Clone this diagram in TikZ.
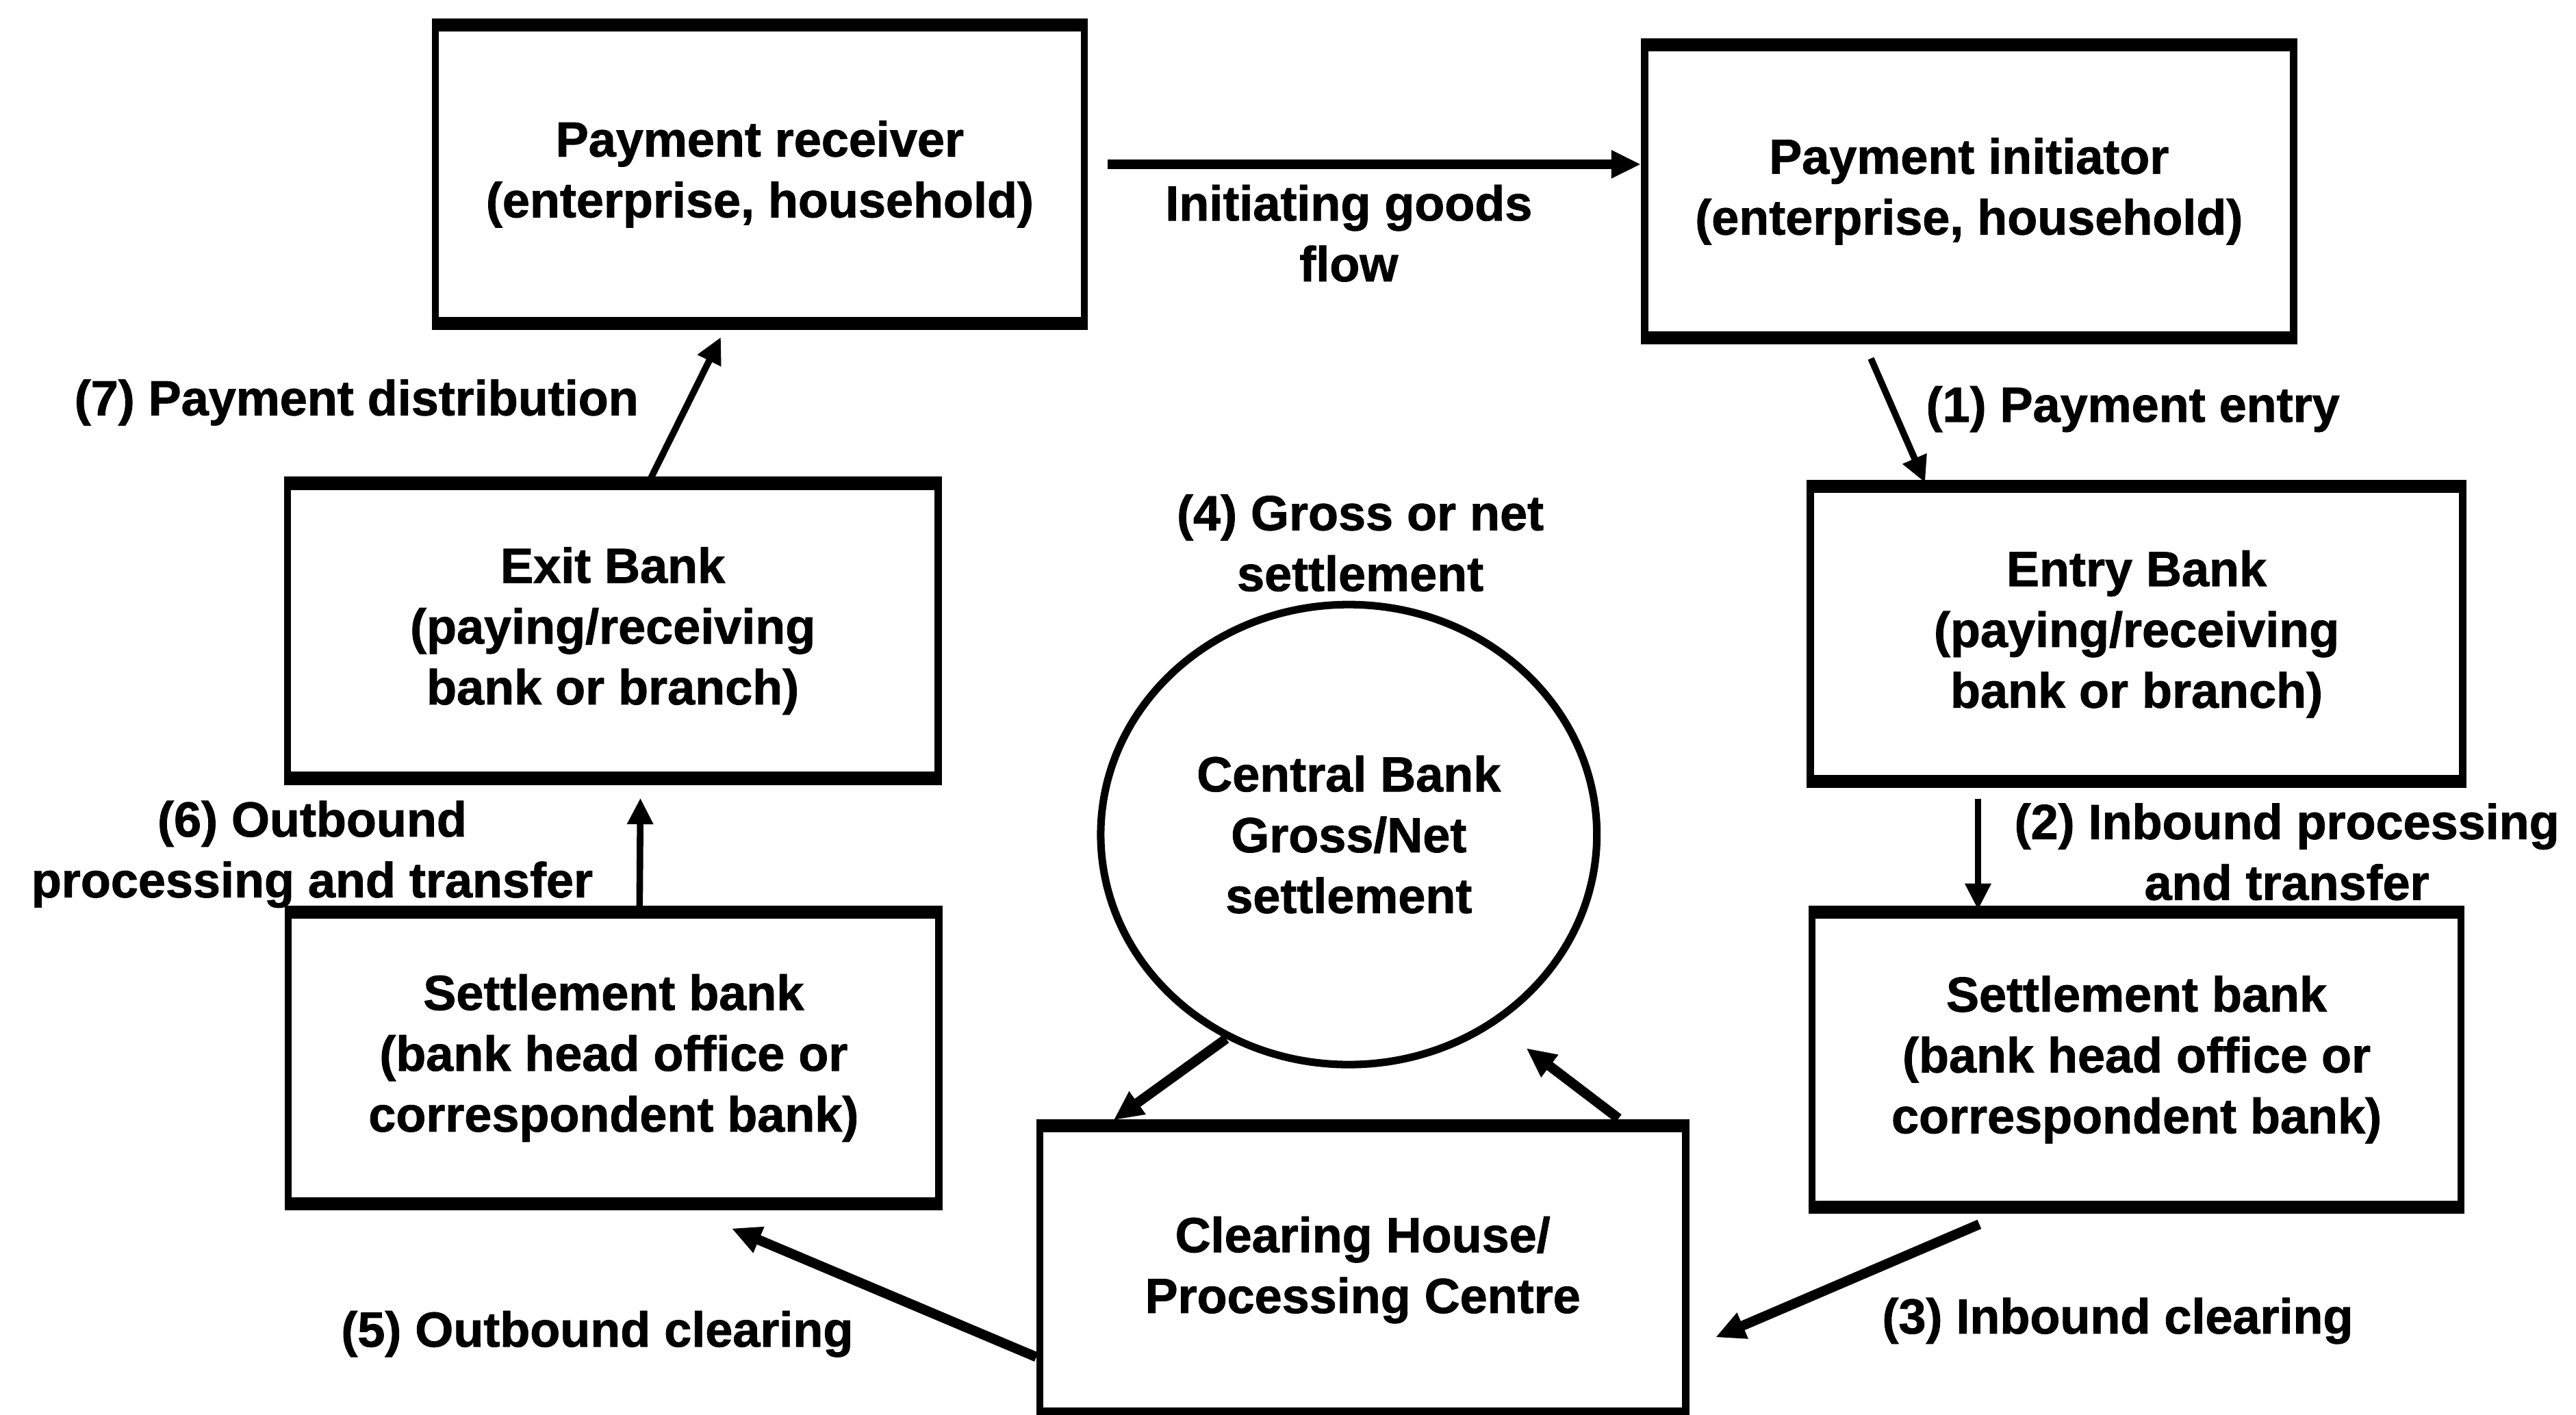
\documentclass[tikz,border=0pt]{standalone}
\usepackage{fontspec}
\setmainfont{Liberation Sans}[BoldFeatures={FakeBold=1.2}]
\usetikzlibrary{arrows.meta,calc,shapes.geometric}
\begin{document}
\begin{tikzpicture}[x=0.5pt,y=-0.5pt,
  every node/.style={font=\fontsize{15}{18.5}\selectfont\bfseries},
  box/.style={draw, rectangle, line width=2.2pt, align=center, inner sep=0pt},
  boxedge/.style={line width=3.6pt},
  arrthin/.style={line width=2pt, -{Triangle[length=8pt,width=7.5pt]}},
  arrthick/.style={line width=3pt, -{Triangle[length=9pt,width=8pt]}},
  lbl/.style={inner sep=0pt, align=center}]
\useasboundingbox (0,0) rectangle (1568,861);
\fill[white] (0,0) rectangle (1568,861);

% boxes
\node[box, minimum width=197.5pt, minimum height=89pt] (recv) at (462.5,106) {Payment receiver\\(enterprise, household)};
\node[box, minimum width=197.5pt, minimum height=87.5pt] (init) at (1198.5,116.5) {Payment initiator\\(enterprise, household)};
\node[box, minimum width=198pt, minimum height=88pt] (exit) at (373,384) {Exit Bank\\(paying/receiving\\bank or branch)};
\node[box, minimum width=198.5pt, minimum height=88pt] (entry) at (1300.5,386) {Entry Bank\\(paying/receiving\\bank or branch)};
\node[box, minimum width=198pt, minimum height=87pt] (setL) at (373.5,644) {Settlement bank\\(bank head office or\\correspondent bank)};
\node[box, minimum width=197.5pt, minimum height=88pt] (setR) at (1300.5,645) {Settlement bank\\(bank head office or\\correspondent bank)};
\node[box, minimum width=196.5pt, minimum height=86pt] (clear) at (829.5,773) {Clearing House/\\Processing Centre};
\node[draw, ellipse, line width=2.3pt, inner sep=0pt, align=center, minimum width=151pt, minimum height=140pt] (cb) at (821,508) {Central Bank\\Gross/Net\\settlement};

% thicker top and bottom edges of the boxes
\foreach \n in {recv,init,exit,entry,setL,setR,clear}{
  \draw[boxedge] (\n.north west) -- (\n.north east);
  \draw[boxedge] (\n.south west) -- (\n.south east);
}

% connectors
\draw[arrthick] ($(recv.east)+(12,-6)$) -- ($(recv.east -| init.west)+(0,-6)$);
\draw[arrthin] ($(init.south west)+(140,12)$) -- ($(entry.north west)+(72,-2)$);
\draw[arrthin] ($(entry.south)+(-96.5,10)$) -- ($(setR.north)+(-96.5,-1)$);
\draw[arrthick] ($(setR.south west)+(104,10)$) -- ($(clear.east)+(16,41)$);
\draw[arrthick] ($(clear.west)+(0,53)$) -- ($(setL.south west)+(272,14.5)$);
\draw[arrthin] ($(setL.north west)+(216,-3)$) -- ($(exit.south west)+(217,11.5)$);
\draw[arrthin] ($(exit.north west)+(223,-2)$) -- ($(recv.south west)+(176,8)$);
\draw[arrthick] (cb.239) -- ($(clear.north west)+(47,-3)$);
\draw[arrthick] ($(clear.north east)+(-43,-4)$) -- ($(cb.center)+(108,130)$);

% labels
\node[lbl] (lgoods) at (821,142) {Initiating goods\\flow};
\node[lbl, anchor=west] (l1) at (1172,249) {(1) Payment entry};
\node[lbl] (l2) at (1392,518.5) {(2) Inbound processing\\and transfer};
\node[lbl] (l3) at (1289,804) {(3) Inbound clearing};
\node[lbl] (l4) at (828,330.5) {(4) Gross or net\\settlement};
\node[lbl] (l5) at (363.5,812) {(5) Outbound clearing};
\node[lbl] (l6) at (190,520) {(6) Outbound\\processing and transfer};
\node[lbl] (l7) at (217,245) {(7) Payment distribution};
\end{tikzpicture}
\end{document}
